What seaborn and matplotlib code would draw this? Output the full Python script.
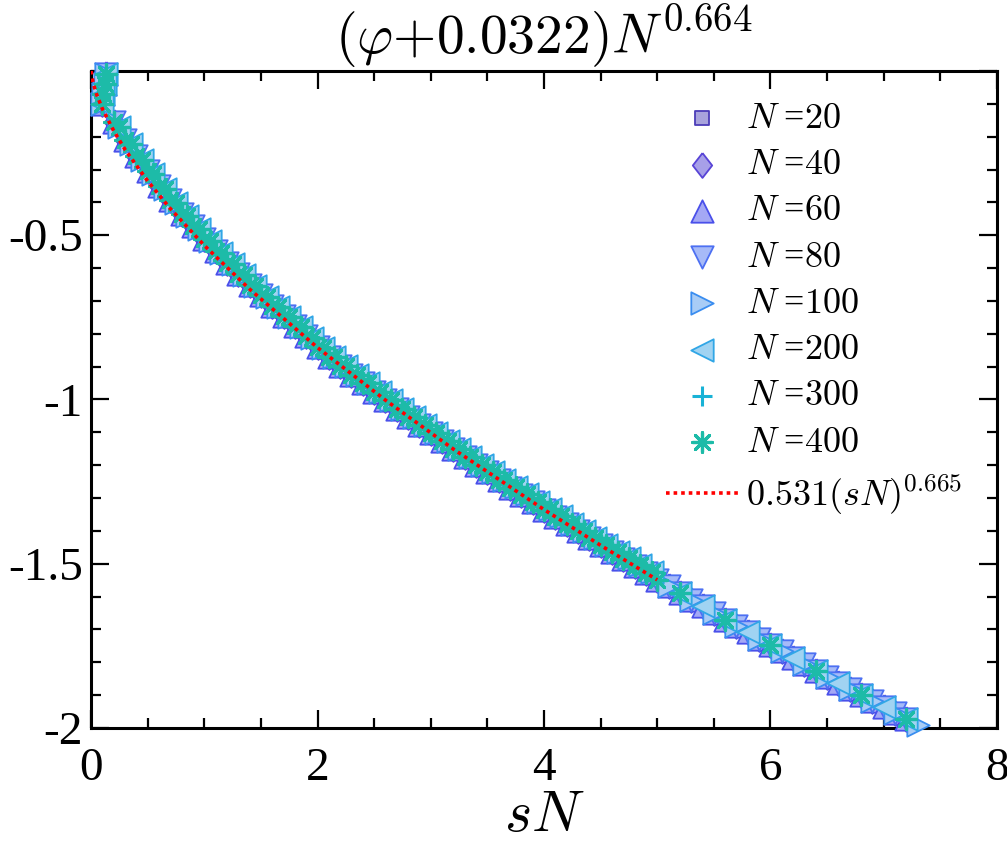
import pandas as pd
import seaborn as sns
import matplotlib.pyplot as plt
from matplotlib.ticker import MultipleLocator, FixedLocator, FixedFormatter


# values (scaled variable sN vs (phi+0.0322) N^0.664)
system_sizes = [20, 40, 60, 80, 100, 200, 300, 400]

head_x = [0.13, 0.12, 0.11, 0.10]
head_y = [-0.01, -0.04, -0.07, -0.10]

# small N sit a little lower in the collapse band
grid_a_x = [0.2, 0.3, 0.4, 0.5, 0.6, 0.7, 0.8, 0.9, 1.0,
            1.1, 1.2, 1.3, 1.4, 1.5, 1.6, 1.7, 1.8, 1.9, 2.0,
            2.1, 2.2, 2.3, 2.4, 2.5, 2.6, 2.7, 2.8, 2.9, 3.0,
            3.1, 3.2, 3.3, 3.4, 3.5, 3.6, 3.7, 3.8, 3.9, 4.0,
            4.1, 4.2, 4.3, 4.4, 4.5, 4.6, 4.7, 4.8, 4.9, 5.0]
grid_a_y = [-0.155, -0.210, -0.260, -0.305, -0.350, -0.393, -0.434, -0.473, -0.510,
            -0.547, -0.583, -0.617, -0.650, -0.683, -0.715, -0.746, -0.777, -0.808, -0.840,
            -0.870, -0.897, -0.924, -0.950, -0.977, -1.002, -1.028, -1.053, -1.078, -1.103,
            -1.127, -1.151, -1.175, -1.198, -1.222, -1.245, -1.268, -1.290, -1.313, -1.335,
            -1.357, -1.379, -1.401, -1.422, -1.444, -1.465, -1.486, -1.507, -1.528, -1.549]

grid_b_x = [0.25, 0.35, 0.45, 0.55, 0.65, 0.75, 0.85, 0.95, 1.05,
            1.15, 1.25, 1.35, 1.45, 1.55, 1.65, 1.75, 1.85, 1.95, 2.05,
            2.15, 2.25, 2.35, 2.45, 2.55, 2.65, 2.75, 2.85, 2.95, 3.05,
            3.15, 3.25, 3.35, 3.45, 3.55, 3.65, 3.75, 3.85, 3.95, 4.05,
            4.15, 4.25, 4.35, 4.45, 4.55, 4.65, 4.75, 4.85, 4.95]
grid_b_y = [-0.170, -0.223, -0.270, -0.315, -0.360, -0.401, -0.441, -0.480, -0.517,
            -0.553, -0.588, -0.621, -0.654, -0.687, -0.718, -0.749, -0.780, -0.812, -0.843,
            -0.871, -0.898, -0.925, -0.951, -0.977, -1.003, -1.028, -1.053, -1.078, -1.103,
            -1.127, -1.151, -1.174, -1.198, -1.221, -1.244, -1.267, -1.289, -1.312, -1.334,
            -1.356, -1.378, -1.399, -1.421, -1.442, -1.463, -1.484, -1.505, -1.526]

# small N keep dense sampling up to the end
tail_dense_x = [5.1, 5.2, 5.3, 5.4, 5.5, 5.6, 5.7, 5.8, 5.9, 6.0, 6.1,
                6.2, 6.3, 6.4, 6.5, 6.6, 6.7, 6.8, 6.9, 7.0, 7.1, 7.2]
tail_dense_y = [-1.569, -1.590, -1.610, -1.630, -1.650, -1.670, -1.690, -1.709, -1.729, -1.748, -1.767,
                -1.787, -1.806, -1.825, -1.844, -1.862, -1.881, -1.900, -1.918, -1.937, -1.955, -1.974]

tail100_x = [5.1, 5.3, 5.5, 5.7, 5.9, 6.1, 6.3, 6.5, 6.7, 6.9, 7.1, 7.3]
tail100_y = [-1.569, -1.610, -1.650, -1.690, -1.729, -1.767, -1.806, -1.844, -1.881, -1.918, -1.955, -1.992]
tail200_x = [5.2, 5.4, 5.6, 5.8, 6.0, 6.2, 6.4, 6.6, 6.8, 7.0, 7.2]
tail200_y = [-1.590, -1.630, -1.670, -1.709, -1.748, -1.787, -1.825, -1.862, -1.900, -1.937, -1.974]
tail300_x = [5.2, 5.6, 6.0, 6.4, 6.8, 7.2]
tail300_y = [-1.590, -1.670, -1.748, -1.825, -1.900, -1.974]
tail400_x = [5.2, 5.6, 6.0, 6.4, 6.8, 7.2]
tail400_y = [-1.590, -1.670, -1.748, -1.825, -1.900, -1.974]

# fit 0.531 (sN)^0.665, drawn up to sN = 5
fit_x = [0, 0.02, 0.05, 0.1, 0.2, 0.3, 0.5, 0.7, 1.0, 1.4, 2.0, 2.6, 3.2, 4.0, 4.5, 5.0]
fit_y = [0, -0.039, -0.072, -0.115, -0.182, -0.239, -0.335, -0.419, -0.531, -0.664,
         -0.842, -1.002, -1.151, -1.335, -1.444, -1.549]

# large N are sampled densely along the whole body of the curve
body = {20: (grid_a_x, grid_a_y, tail_dense_x, tail_dense_y),
        40: (grid_a_x, grid_a_y, tail_dense_x, tail_dense_y),
        60: (grid_a_x, grid_a_y, tail_dense_x, tail_dense_y),
        80: (grid_a_x, grid_a_y, tail_dense_x, tail_dense_y),
        100: (grid_b_x, grid_b_y, tail100_x, tail100_y),
        200: (grid_b_x, grid_b_y, tail200_x, tail200_y),
        300: (grid_a_x + grid_b_x, grid_a_y + grid_b_y, tail300_x, tail300_y),
        400: (grid_b_x + grid_a_x, grid_b_y + grid_a_y, tail400_x, tail400_y)}

rows = []
for n in system_sizes:
    gx, gy, tx, ty = body[n]
    for x, y in zip(head_x + gx + tx, head_y + gy + ty):
        rows.append({'N': n, 'sN': x, 'val': y})
df = pd.DataFrame(rows)

# styles
diamond = [(0, 1), (0.78, 0), (0, -1), (-0.78, 0), (0, 1)]
markers = {20: 's', 40: diamond, 60: '^', 80: 'v', 100: '>', 200: '<', 300: '+', 400: (8, 2, 0)}
sizes = {20: 110, 40: 320, 60: 260, 80: 260, 100: 260, 200: 260, 300: 200, 400: 200}
widths = {20: 1.3, 40: 1.3, 60: 1.3, 80: 1.3, 100: 1.3, 200: 1.3, 300: 2.2, 400: 2.3}
edges = {20: '#4B3DB8', 40: '#5844D6', 60: '#4A50EA', 80: '#4D70F2',
         100: '#3A8DF0', 200: '#30A6E6', 300: '#18B2D6', 400: '#1DBBA8'}
faces = {20: '#A8A3DC', 40: '#A7A0E8', 60: '#A4A8F5', 80: '#A6BAF8',
         100: '#A8CCF6', 200: '#A0D3F2', 300: '#18B2D6', 400: '#1DBBA8'}

sns.set_style('ticks')
plt.rcParams['font.family'] = ['Liberation Serif', 'DejaVu Serif']
plt.rcParams['mathtext.fontset'] = 'cm'
plt.rcParams['axes.unicode_minus'] = False
for key in ['axes.edgecolor', 'xtick.color', 'ytick.color', 'text.color', 'axes.labelcolor']:
    plt.rcParams[key] = 'black'

fig = plt.figure(figsize=(10.07, 8.48), dpi=100)
ax = fig.add_axes([0.0904, 0.1415, 0.8996, 0.7748])

for n in system_sizes:
    sub = df[df['N'] == n]
    filled = n not in (300, 400)
    sns.scatterplot(data=sub, x='sN', y='val', ax=ax, marker=markers[n], s=sizes[n],
                    color=faces[n] if filled else edges[n],
                    edgecolor=edges[n], linewidth=widths[n],
                    label=r'$N\;$=$%d$' % n, clip_on=False, zorder=3)

sns.lineplot(x=fit_x, y=fit_y, ax=ax, color='red', lw=2.6,
             label=r'$0.531(sN)^{0.665}$', zorder=5, sort=False)
ax.lines[-1].set_linestyle((0, (1, 1.1)))

ax.set_xlim(0, 8)
ax.set_ylim(-2, 0)
ax.xaxis.set_major_locator(FixedLocator([0, 2, 4, 6, 8]))
ax.xaxis.set_minor_locator(MultipleLocator(0.5))
ax.yaxis.set_major_locator(FixedLocator([-2, -1.5, -1, -0.5, 0]))
ax.yaxis.set_major_formatter(FixedFormatter(['-2', '-1.5', '-1', '-0.5', '']))
ax.yaxis.set_minor_locator(MultipleLocator(0.1))
ax.tick_params(which='both', direction='in', top=True, right=True, width=1.6, labelsize=34)
ax.tick_params(which='major', length=13)
ax.tick_params(which='minor', length=7)
ax.tick_params(axis='x', pad=14)
ax.tick_params(axis='y', pad=6)
for sp in ax.spines.values():
    sp.set_linewidth(2.2)

ax.set_xlabel(r'$sN$', fontsize=42, labelpad=1)
ax.set_ylabel('')
ax.set_title(r'$(\varphi{+}0.0322)N^{0.664}$', fontsize=40, pad=8)

leg = ax.legend(loc='upper right', bbox_to_anchor=(0.985, 0.985), frameon=False, fontsize=26,
                scatterpoints=1, handlelength=2.0, handletextpad=0.2, labelspacing=0.36,
                borderaxespad=0.2)

fig.savefig('out.png', dpi=100)
